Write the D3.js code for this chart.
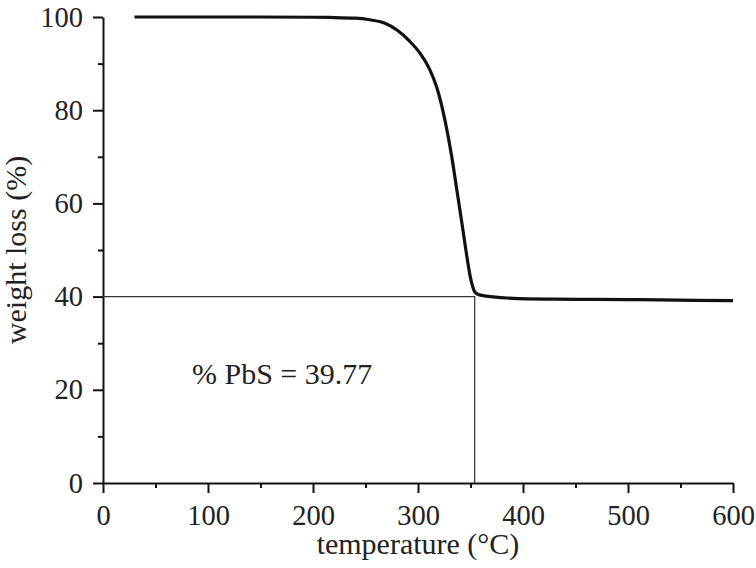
<!DOCTYPE html>
<html>
<head>
<meta charset="utf-8">
<script src="https://cdn.jsdelivr.net/npm/d3@7"></script>
<style>
  body { margin: 0; background: #fff; }
  svg { display: block; font-family: "Liberation Serif", "DejaVu Serif", serif; }
  .axis text { font-size: 28.5px; fill: #222; font-family: "Liberation Serif", serif; }
  .axis path, .axis line { stroke: #111; stroke-width: 2px; }
</style>
</head>
<body>
<svg id="canvas" width="756" height="568"></svg>
<script>
// TGA curve
const temps = [30, 100, 150, 200, 216, 240, 254, 268, 280, 292, 302, 311, 318, 326, 332, 337, 342, 346, 350, 352, 354, 357, 362, 372, 385, 404, 430, 467, 500, 530, 565, 600];
const weights = [100, 100, 100, 99.95, 99.9, 99.75, 99.4, 98.7, 97.2, 94.8, 92.2, 88.8, 84.8, 77.5, 70.2, 62.9, 55.5, 49.4, 44.0, 42.2, 41.0, 40.5, 40.2, 39.95, 39.7, 39.5, 39.45, 39.4, 39.35, 39.3, 39.2, 39.15];

// residue marker lines
const refTemp = 354;
const refWeight = 40;
const annotation = "% PbS = 39.77";

const xMajor = [0, 100, 200, 300, 400, 500, 600];
const xMinor = [50, 150, 250, 350, 450, 550];
const yMajor = [0, 20, 40, 60, 80, 100];
const yMinor = [10, 30, 50, 70, 90];

const svg = d3.select("#canvas");
const margin = { top: 17, right: 23, bottom: 85, left: 103 };
const width = 756 - margin.left - margin.right;
const height = 568 - margin.top - margin.bottom;

const g = svg.append("g").attr("transform", `translate(${margin.left},${margin.top})`);

const x = d3.scaleLinear().domain([0, 600]).range([0, width]);
const y = d3.scaleLinear().domain([0, 100]).range([height, 0]);

// minor ticks first (no labels)
g.append("g")
  .attr("class", "axis")
  .attr("transform", `translate(0,${height})`)
  .call(d3.axisBottom(x).tickValues(xMinor).tickSize(5).tickSizeOuter(0).tickFormat(""))
  .call((a) => a.select(".domain").remove());

g.append("g")
  .attr("class", "axis")
  .call(d3.axisLeft(y).tickValues(yMinor).tickSize(5).tickSizeOuter(0).tickFormat(""))
  .call((a) => a.select(".domain").remove());

// major axes
g.append("g")
  .attr("class", "axis")
  .attr("transform", `translate(0,${height})`)
  .call(d3.axisBottom(x).tickValues(xMajor).tickSize(10).tickSizeOuter(0).tickPadding(12));

g.append("g")
  .attr("class", "axis")
  .call(d3.axisLeft(y).tickValues(yMajor).tickSize(10).tickSizeOuter(0).tickPadding(10));

// reference lines
g.append("path")
  .attr("d", `M${x(0)},${y(refWeight)}H${x(refTemp)}V${y(0)}`)
  .attr("fill", "none")
  .attr("stroke", "#333")
  .attr("stroke-width", 1.2);

// curve
const pts = temps.map((t, i) => [t, weights[i]]);
const line = d3.line()
  .x((d) => x(d[0]))
  .y((d) => y(d[1]))
  .curve(d3.curveMonotoneX);

g.append("path")
  .datum(pts)
  .attr("d", line)
  .attr("fill", "none")
  .attr("stroke", "#111")
  .attr("stroke-width", 3.2)
  .attr("stroke-linejoin", "round");

// annotation
g.append("text")
  .attr("x", 192 - margin.left)
  .attr("y", 384 - margin.top)
  .attr("font-size", 30)
  .attr("fill", "#222")
  .text(annotation);

// axis titles
svg.append("text")
  .attr("x", margin.left + width / 2)
  .attr("y", 554)
  .attr("text-anchor", "middle")
  .attr("font-size", 30)
  .attr("fill", "#222")
  .text("temperature (°C)");

svg.append("text")
  .attr("transform", `translate(26,${margin.top + height / 2}) rotate(-90)`)
  .attr("text-anchor", "middle")
  .attr("font-size", 30)
  .attr("fill", "#222")
  .text("weight loss (%)");
</script>
</body>
</html>
